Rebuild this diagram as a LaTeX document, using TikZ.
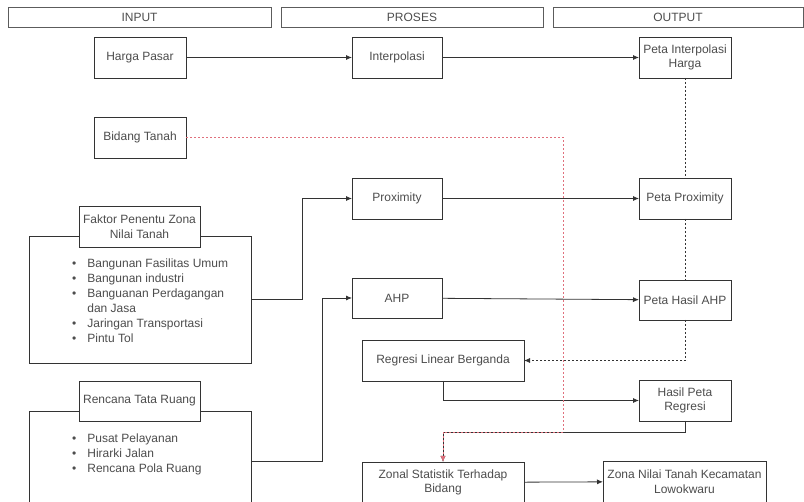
\documentclass[tikz,border=0pt]{standalone}
\usepackage{fontspec}
\setmainfont{Liberation Sans}
\usepackage{xcolor}
\usetikzlibrary{arrows.meta,positioning}
\definecolor{edge}{HTML}{333333}
\definecolor{ink}{HTML}{4D4D4D}
\definecolor{reddot}{HTML}{E0707C}

\begin{document}
\begin{tikzpicture}[x=1pt,y=-1pt,
    every node/.style={font=\fontsize{12}{14.5}\selectfont,text=ink},
    box/.style={draw=edge,line width=0.8pt,fill=white,inner sep=0pt,outer sep=0pt,
      minimum width=#1,minimum height=41,align=center},
    box/.default=92,
    head/.style={draw=edge!80,line width=0.8pt,inner sep=0pt,minimum height=20},
    list/.style={anchor=north west,inner sep=0pt,align=left,
      font=\fontsize{12}{15}\selectfont},
    arr/.style={draw=edge,line width=0.8pt,-{Latex[length=6pt,width=5pt]}},
    dot/.style={draw=edge,line width=0.8pt,dash pattern=on 2pt off 2pt},
    reddash/.style={draw=reddot,line width=0.8pt,dash pattern=on 2pt off 2pt}]
      \clip (0,0) rectangle (804,502);
      \path
      (139.5,17) node[head,minimum width=263](hin) {INPUT}
      (412,17) node[head,minimum width=262](hpro) {PROSES}
      (678,17) node[head,minimum width=250](hout) {OUTPUT}
      (140,57.5) node[box](harga) {Harga Pasar}
      (397,57.5) node[box=90](interp) {Interpolasi}
      (685,57.5) node[box](petaint) {Peta Interpolasi\\Harga}
      (140,137.5) node[box](bidang) {Bidang Tanah}
      (397,198.5) node[box=90](prox) {Proximity}
      (685,198.5) node[box](petaprox) {Peta Proximity}
      (140,299.5) node[box=222,minimum height=127](faktorbg) {}
      (139.5,226.5) node[box=121](faktor) {Faktor Penentu Zona\\Nilai Tanah}
      (72,256.5) node[list](faktorlist)
        {\begin{tabular}{@{}c@{\hspace{11pt}}l@{}}
         \textbullet & Bangunan Fasilitas Umum\\
         \textbullet & Bangunan industri\\
         \textbullet & Banguanan Perdagangan\\
                     & dan Jasa\\
         \textbullet & Jaringan Transportasi\\
         \textbullet & Pintu Tol
         \end{tabular}}
      (397,298) node[box=90,minimum height=40](ahp) {AHP}
      (685,300) node[box,minimum height=40](petaahp) {Peta Hasil AHP}
      (443,360.5) node[box=162](regresi) {Regresi Linear Berganda}
      (685,400.5) node[box](hasil) {Hasil Peta\\Regresi}
      (140,461) node[box=222,minimum height=100](rencanabg) {}
      (139.5,401) node[box=121,minimum height=40](rencana) {Rencana Tata Ruang}
      (72,431.5) node[list](rencanalist)
        {\begin{tabular}{@{}c@{\hspace{11pt}}l@{}}
         \textbullet & Pusat Pelayanan\\
         \textbullet & Hirarki Jalan\\
         \textbullet & Rencana Pola Ruang
         \end{tabular}}
      (443,482.5) node[box=162](zonal) {Zonal Statistik Terhadap\\Bidang}
      (684.5,481.5) node[box=163](zona) {Zona Nilai Tanah Kecamatan\\Lowokwaru}
      ;
      \coordinate (bend) at (563,432);

      \draw[arr] (harga) -- (interp);
      \draw[arr] (interp) -- (petaint);
      \draw[dot] (petaint) -- (petaprox);
      \draw[dot] (petaprox) -- (petaahp);
      \draw[arr] (faktorbg.east) -- ++(51,0) |- (prox.west);
      \draw[arr] (rencanabg.east) -- ++(71,0) |- (ahp.west);
      \draw[arr] (prox) -- (petaprox);
      \draw[arr] (ahp) -- (petaahp);
      \draw[dot,-{Latex[length=6pt,width=5pt]}] (petaahp) |- (regresi);
      \draw[arr] (regresi) |- (hasil);
      \draw[arr] (hasil.south) -- ++(0,11) -| (zonal.north);
      \draw[reddash,-{Latex[length=6pt,width=5pt]}] (bidang.east) -| (bend) -| (zonal.north);
      \draw[arr] (zonal) -- (zona);
    \end{tikzpicture}
\end{document}
